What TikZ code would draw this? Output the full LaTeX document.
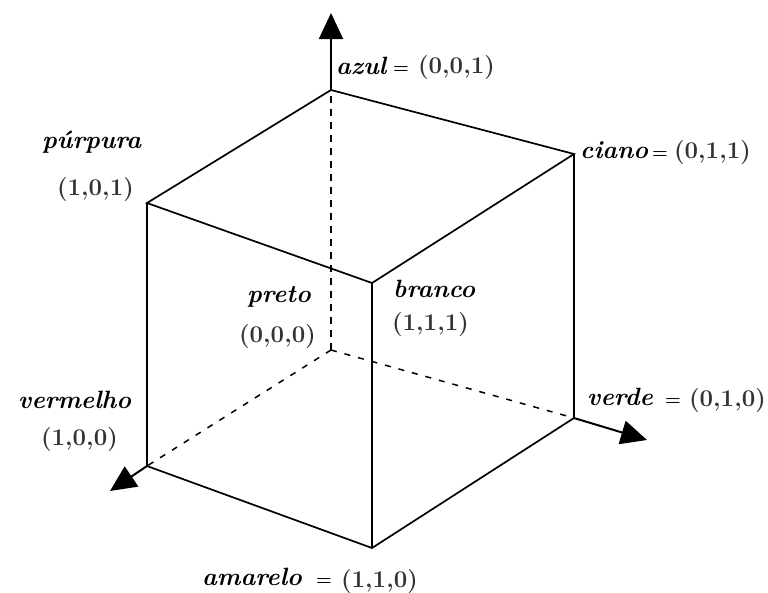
\documentclass[tikz,border=0pt]{standalone}
\usepackage{tikz}
\usetikzlibrary{arrows.meta,positioning,calc}
\tikzset{
  >={Triangle[length=26pt,width=24pt]},
  edge/.style={draw=black,line width=1.7pt},
  hid/.style={draw=black,line width=1.7pt,dash pattern=on 7pt off 6pt},
  hidthin/.style={draw=black,line width=1.5pt,dash pattern=on 6pt off 8pt},
  axis/.style={->,draw=black,line width=2pt},
  lab/.style={font=\fontsize{25}{30}\selectfont\bfseries\itshape,inner sep=0pt},
  val/.style={font=\fontsize{24}{26}\selectfont\bfseries,text=black!80,inner sep=0pt},
  eqs/.style={font=\fontsize{18}{20}\selectfont\bfseries,inner sep=0pt},
}
\begin{document}
\begin{tikzpicture}[x=1pt,y=-1pt]
\useasboundingbox (0,0) rectangle (768,592);
% cube corners
\coordinate (preto) at (331,350);
\coordinate (azul) at (331,90);
\coordinate (ciano) at (574,154);
\coordinate (verde) at (574,418);
\coordinate (purpura) at (147,203);
\coordinate (vermelho) at (147,466);
\coordinate (branco) at (372,283);
\coordinate (amarelo) at (372,548);
\coordinate (topz) at (331,13);
\coordinate (endx) at (110,491);
\coordinate (endy) at (647,440);

\draw[edge] (azul) -- (ciano) -- (branco) -- (purpura) -- cycle;
\draw[edge] (purpura) -- (vermelho) -- (amarelo) -- (verde) -- (ciano);
\draw[edge] (branco) -- (amarelo);
\draw[hid] (preto) -- (azul);
\draw[hidthin] (preto) -- (vermelho);
\draw[hidthin] (preto) -- (verde);
\draw[axis] (azul) -- (topz);
\draw[axis] (vermelho) -- (endx);
\draw[axis] (verde) -- (endy);

\node[lab,anchor=base west] (azullab) at (336,74) {azul};
\node[eqs,anchor=base west] (azuleq) at (393,73) {=};
\node[val,anchor=base west] (azulval) at (418,73) {(0,0,1)};
\node[lab,anchor=base west] (cianolab) at (580,158) {ciano};
\node[eqs,anchor=base west] (cianoeq) at (652,158) {=};
\node[val,anchor=base west] (cianoval) at (674,158) {(0,1,1)};
\node[lab,anchor=base west] (purpuralab) at (42,148) {púrpura};
\node[val,anchor=base west] (purpuraval) at (57,195) {(1,0,1)};
\node[lab,anchor=base west] (pretolab) at (247,302) {preto};
\node[val,anchor=base west] (pretoval) at (239,342) {(0,0,0)};
\node[lab,anchor=base west] (brancolab) at (393,297) {branco};
\node[val,anchor=base west] (brancoval) at (392,330) {(1,1,1)};
\node[lab,anchor=base west] (vermelholab) at (18,408) {vermelho};
\node[val,anchor=base west] (vermelhoval) at (41,445) {(1,0,0)};
\node[lab,anchor=base west] (verdelab) at (587,405) {verde};
\node[eqs,anchor=base west] (verdeeq) at (665,405) {=};
\node[val,anchor=base west] (verdeval) at (689,406) {(0,1,0)};
\node[lab,anchor=base west] (amarelolab) at (202,585) {amarelo};
\node[eqs,anchor=base west] (amareloeq) at (316,585) {=};
\node[val,anchor=base west] (amareloval) at (341,587) {(1,1,0)};
\end{tikzpicture}
\end{document}
